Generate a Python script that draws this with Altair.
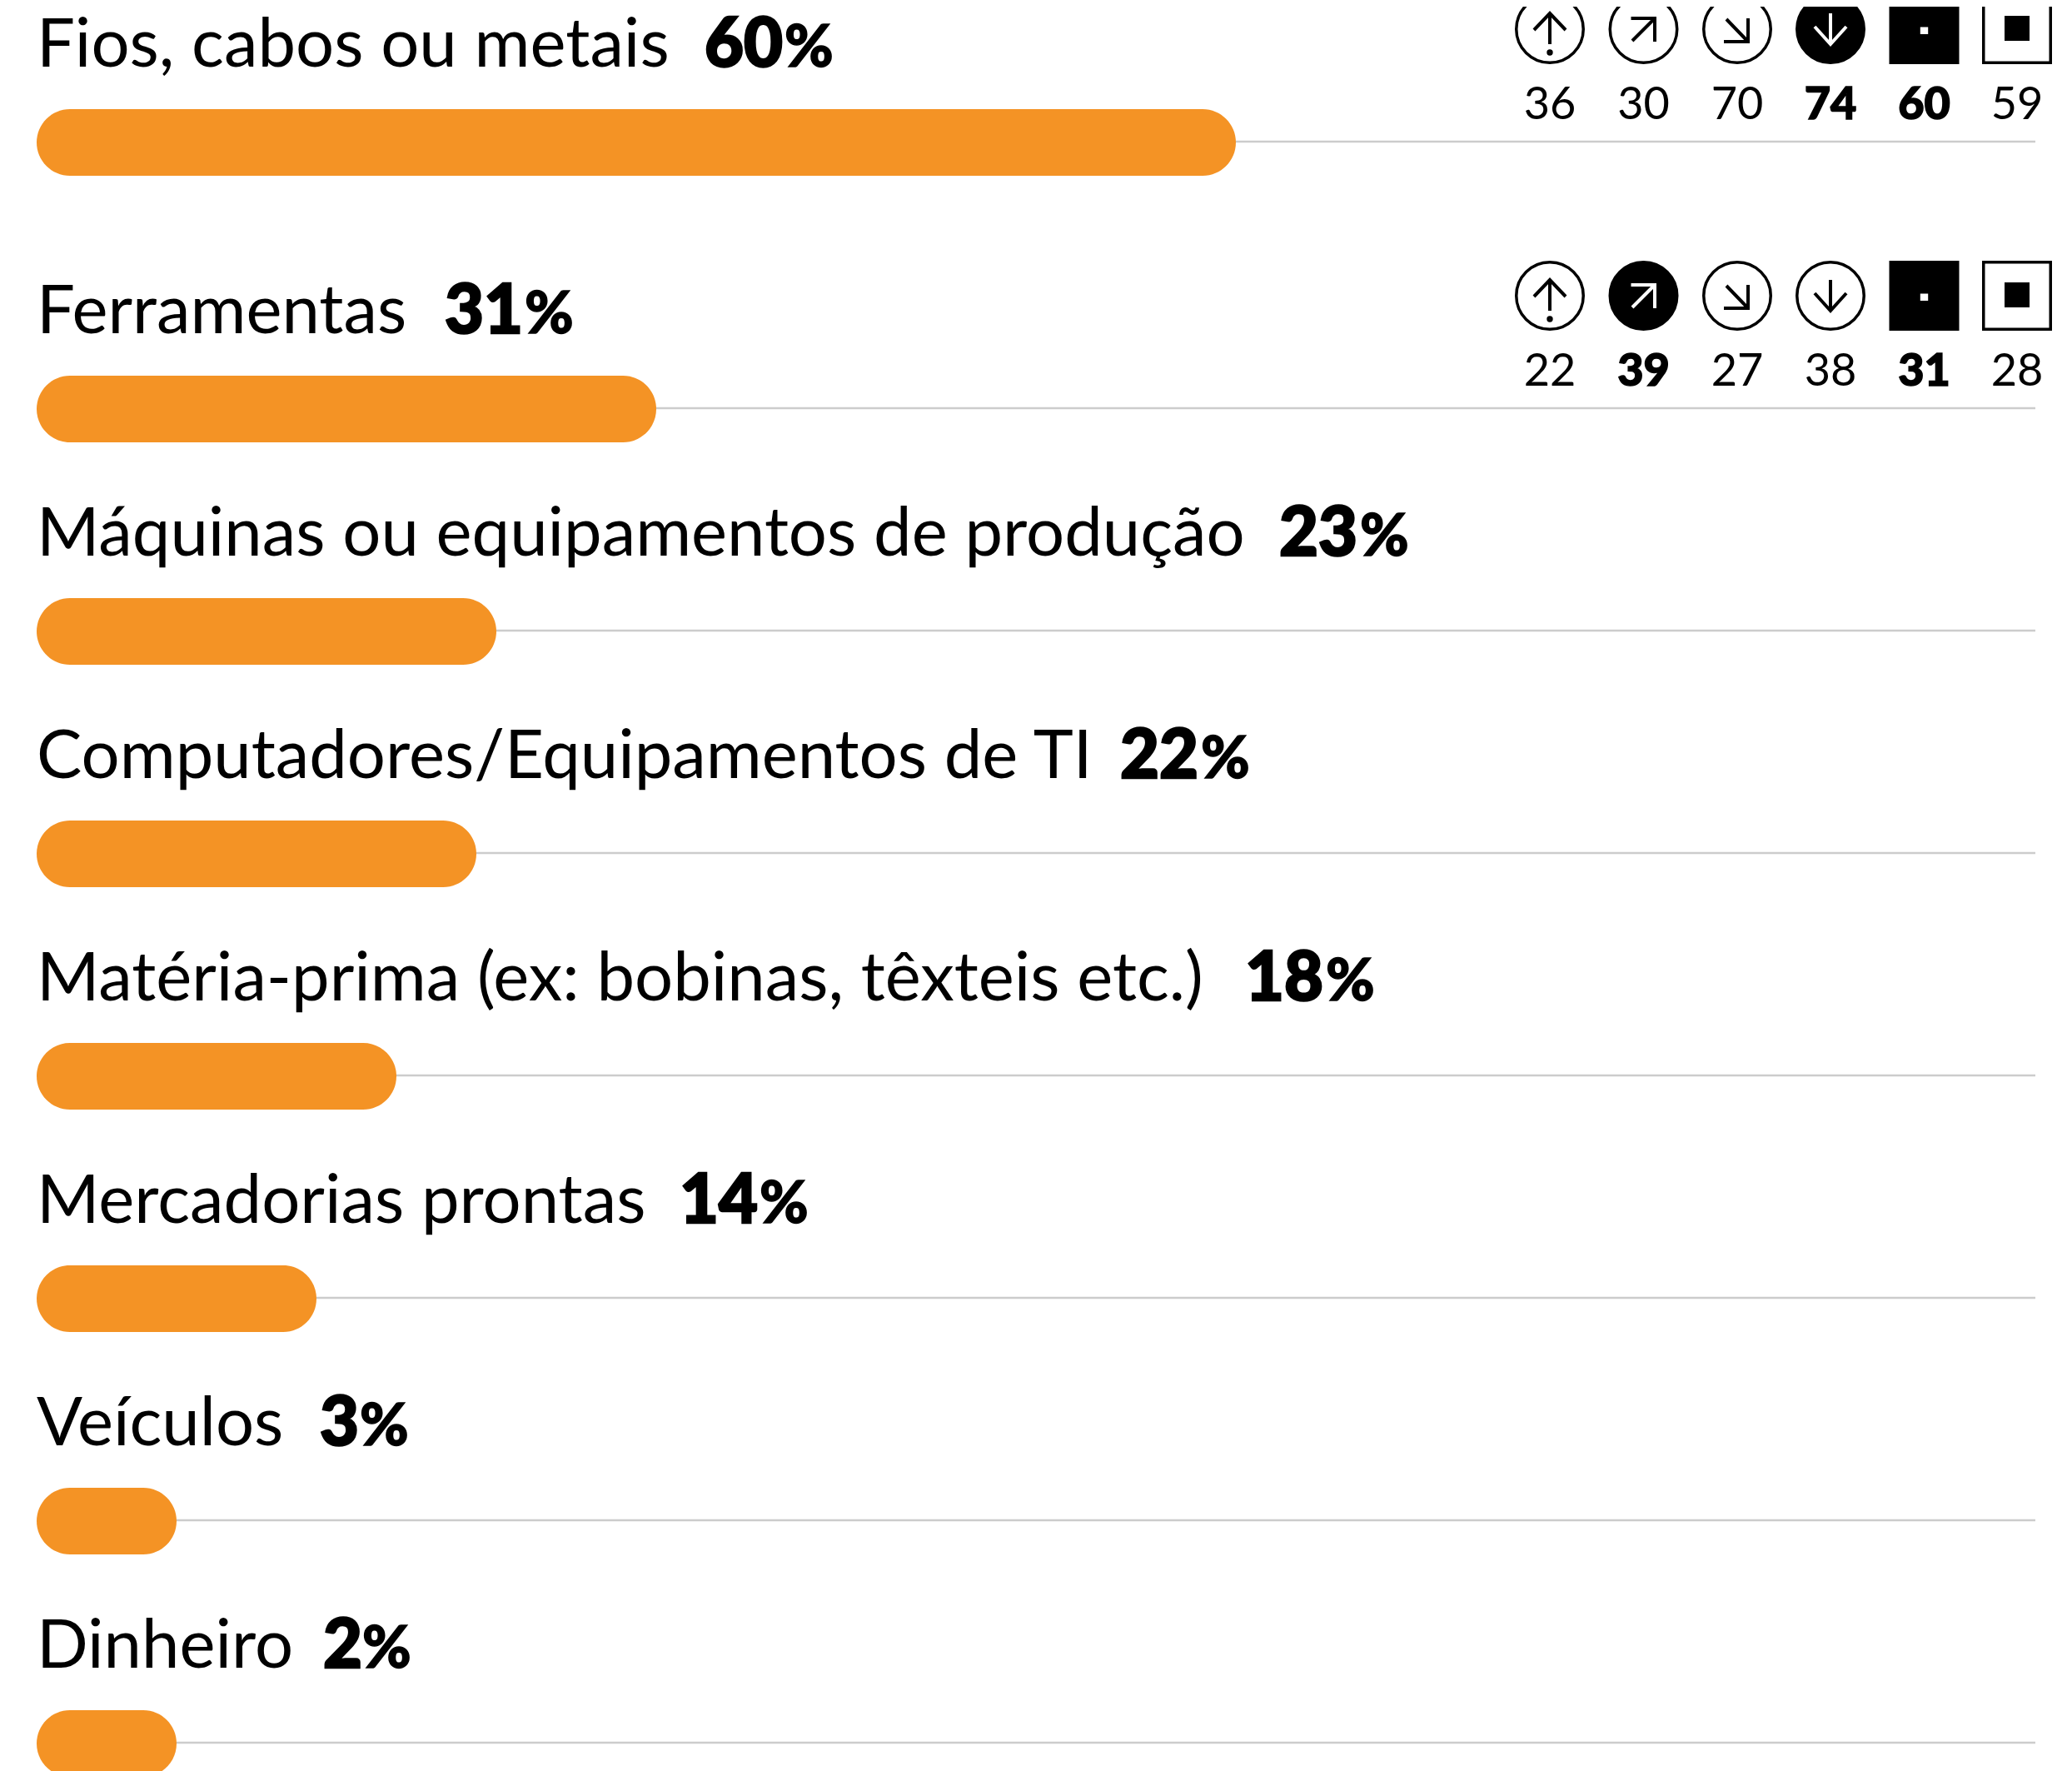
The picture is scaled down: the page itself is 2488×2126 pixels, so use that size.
import altair as alt
import pandas as pd

categories = ["Fios, cabos ou metais", "Ferramentas", "Máquinas ou equipamentos de produção",
              "Computadores/Equipamentos de TI", "Matéria-prima (ex: bobinas, têxteis etc.)",
              "Mercadorias prontas", "Veículos", "Dinheiro"]
values = [60, 31, 23, 22, 18, 14, 3, 2]
bar_lengths = [60, 31, 23, 22, 18, 14, 7, 7]
row_ids = list(range(8))

icon_rows = [0] * 6 + [1] * 6
icon_cols = list(range(6)) * 2
icon_values = [36, 30, 70, 74, 60, 59, 22, 39, 27, 38, 31, 28]
icon_bold = [0, 0, 0, 1, 1, 0, 0, 1, 0, 0, 1, 0]
icon_names = ["up", "ne", "se", "down", "dot", "box"] * 2

FONT = "Lato"
W, H = 2472, 2118
MARGIN = 8
row_centres = [171, 491, 758, 1025, 1292, 1559, 1826, 2093]
value_starts = [846, 534, 1536, 1345, 1495, 816, 384, 388]
pct_starts = [942, 630, 1633, 1442, 1592, 912, 432, 435]
col_centres = [1861, 1973.5, 2086, 2198, 2310.5, 2422]


def y_at(offset):
    return alt.Y("row:Q", axis=None, scale=alt.Scale(domain=row_ids, padding=0, range=[c + offset - MARGIN for c in row_centres]))


def x_at(stops):
    return alt.X("row:Q", axis=None, scale=alt.Scale(domain=row_ids, range=[s - MARGIN for s in stops]))


x_pct = alt.Scale(domain=[0, 100], range=[44 - MARGIN, 2444 - MARGIN])
x_col = alt.X("col:Q", axis=None, scale=alt.Scale(domain=list(range(6)), range=[c - MARGIN for c in col_centres]))

rows = pd.DataFrame({"row": row_ids, "cat": categories, "value": values, "bar": bar_lengths, "full": [100] * 8,
                     "zero": [0] * 8, "pct": ["%"] * 8})
icons = pd.DataFrame({"row": icon_rows, "col": icon_cols, "value": icon_values, "hl": icon_bold, "kind": icon_names})

rule = alt.Chart(rows).mark_rule(color="#cccccc", strokeWidth=2.5).encode(
    x=alt.X("zero:Q", axis=None, scale=x_pct), x2="full:Q", y=y_at(-1))
bars = alt.Chart(rows).mark_bar(color="#f49325", size=80, cornerRadius=40).encode(
    x=alt.X("zero:Q", axis=None, scale=x_pct), x2="bar:Q", y=y_at(0))
labels = alt.Chart(rows).mark_text(align="left", baseline="alphabetic", font=FONT, fontSize=81.4, color="#000").encode(
    x=alt.X("zero:Q", axis=None, scale=x_pct), y=y_at(-91), text="cat:N")
val_text = alt.Chart(rows).mark_text(align="left", baseline="alphabetic", font=FONT, fontSize=81, fontWeight=900,
                                     color="#000", stroke="#000", strokeWidth=2.5).encode(
    x=x_at(value_starts), y=y_at(-91), text="value:N")
pct_text = alt.Chart(rows).mark_text(align="left", baseline="alphabetic", font=FONT, fontSize=71, fontWeight=900,
                                     color="#000", stroke="#000", strokeWidth=1.5).encode(
    x=x_at(pct_starts), y=y_at(-91), text="pct:N")

u = 84.0


def p(*pts):
    return "M" + " L".join(f"{a / u:.4f},{b / u:.4f}" for a, b in pts)


r = 1.7 / u
up_path = " ".join([p((0, -19), (0, 18)), p((-19, 1), (0, -19), (19, 1)),
                    f"M{-r:.4f},{28 / u:.4f} A{r:.4f},{r:.4f} 0 1 1 {r:.4f},{28 / u:.4f} A{r:.4f},{r:.4f} 0 1 1 {-r:.4f},{28 / u:.4f} Z"])
ne_path = " ".join([p((-15, -13), (13.5, -13), (13.5, 15)), p((-13.5, 14), (13.5, -13))])
se_path = " ".join([p((13, -13), (13, 15), (-16, 15)), p((-13, -12), (13, 15))])
down_path = " ".join([p((0, -19), (0, 18)), p((-19, -3), (0, 18), (19, -3))])
dot_path = p((-4.7, -2.5), (4.7, -2.5), (4.7, 6), (-4.7, 6)) + " Z"
box_path = p((-15, -16), (15, -16), (15, 14), (-15, 14)) + " Z"

kinds = ["up", "ne", "se", "down", "dot", "box"]
shape_back = alt.Shape("kind:N", legend=None, scale=alt.Scale(domain=kinds, range=["circle"] * 4 + ["square"] * 2))
shape_arrow = alt.Shape("kind:N", legend=None, scale=alt.Scale(domain=kinds[:4], range=[up_path, ne_path, se_path, down_path]))
shape_inner = alt.Shape("kind:N", legend=None, scale=alt.Scale(domain=kinds[4:], range=[dot_path, box_path]))

glyph_size = (2 * u) ** 2
icon_y = y_at(-136)
backs = alt.Chart(icons).mark_point(size=80.5 ** 2, strokeWidth=3.5, opacity=1, filled=False, stroke="#000").encode(
    x=x_col, y=icon_y, shape=shape_back,
    fill=alt.condition("datum.hl == 1", alt.value("#000"), alt.value("#fff")))
arrows = alt.Chart(icons).transform_filter("datum.col < 4").mark_point(
    size=glyph_size, strokeWidth=4, opacity=1, filled=False).encode(
    x=x_col, y=icon_y, shape=shape_arrow,
    stroke=alt.condition("datum.hl == 1", alt.value("#fff"), alt.value("#000")))
inners = alt.Chart(icons).transform_filter("datum.col >= 4").mark_point(
    size=glyph_size, opacity=1, filled=True, strokeWidth=0).encode(
    x=x_col, y=icon_y, shape=shape_inner,
    fill=alt.condition("datum.hl == 1", alt.value("#fff"), alt.value("#000")))
nums = alt.Chart(icons).transform_filter("datum.hl == 0").mark_text(
    align="center", baseline="alphabetic", font=FONT, fontSize=54, color="#000").encode(
    x=x_col, y=y_at(-28), text="value:N")
nums_bold = alt.Chart(icons).transform_filter("datum.hl == 1").mark_text(
    align="center", baseline="alphabetic", font=FONT, fontSize=54, fontWeight=900, color="#000",
    stroke="#000", strokeWidth=1.5).encode(
    x=x_col, y=y_at(-28), text="value:N")

chart = alt.layer(rule, bars, labels, val_text, pct_text, backs, arrows, inners, nums, nums_bold).resolve_scale(
    x="independent", y="independent", shape="independent").properties(
    width=W, height=H, padding=0, autosize=alt.AutoSizeParams(type="none"), background="#ffffff"
).configure_view(stroke=None)

chart.save("out.html", embed_options={"renderer": "svg", "actions": False})
